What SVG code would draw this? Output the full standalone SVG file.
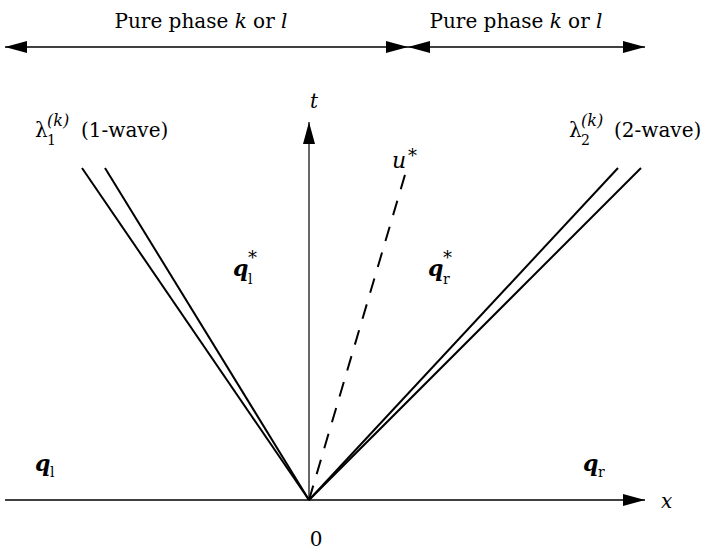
<svg xmlns="http://www.w3.org/2000/svg" width="708" height="553" viewBox="0 0 708 553">
<style>
text{font-family:"DejaVu Serif","Liberation Serif",serif;fill:#000;font-size:20px}
.it{font-style:italic}
.b{font-weight:bold;font-style:italic;font-size:22px}
.s{font-size:14px}
.k{font-size:16px;font-style:italic}
.st{font-size:18px}
.ax{stroke:#000;stroke-width:1.5;fill:none}
.w{stroke:#000;stroke-width:2;fill:none}
.d{stroke:#000;stroke-width:2;fill:none;stroke-dasharray:15 12}
</style>
<defs>
<marker id="ah" viewBox="0 0 22 12" refX="22" refY="6" markerWidth="22" markerHeight="12" markerUnits="userSpaceOnUse" orient="auto-start-reverse">
<path d="M0,0 L22,6 L0,12 Z" fill="#000"/>
</marker>
</defs>
<g id="connectors">
<line class="ax" x1="5" y1="47" x2="408" y2="47" marker-start="url(#ah)" marker-end="url(#ah)"/>
<line class="ax" x1="408" y1="47" x2="645" y2="47" marker-start="url(#ah)" marker-end="url(#ah)"/>
<line class="ax" x1="5" y1="500" x2="645" y2="500" marker-end="url(#ah)"/>
<line class="ax" style="stroke-width:1.2" x1="309" y1="500" x2="309" y2="122" marker-end="url(#ah)"/>
<line class="w" x1="309" y1="500" x2="82" y2="168"/>
<line class="w" x1="309" y1="500" x2="105" y2="168"/>
<line class="w" x1="309" y1="500" x2="618" y2="168"/>
<line class="w" x1="309" y1="500" x2="641" y2="168"/>
<line class="d" x1="309" y1="500" x2="407" y2="168"/>
</g>
<g id="labels">
<text x="201" y="28" text-anchor="middle">Pure phase <tspan class="it">k</tspan> or <tspan class="it">l</tspan></text>
<text x="516" y="28" text-anchor="middle">Pure phase <tspan class="it">k</tspan> or <tspan class="it">l</tspan></text>
<text class="it" x="310" y="108">t</text>
<text class="it" x="661" y="508">x</text>
<text x="316" y="546" text-anchor="middle">0</text>
<text x="35" y="137">λ</text><text class="s" x="47" y="145">1</text><text class="k" x="47" y="126">(k)</text><text x="81" y="137">(1-wave)</text>
<text x="569" y="137">λ</text><text class="s" x="581" y="145">2</text><text class="k" x="581" y="126">(k)</text><text x="614" y="137">(2-wave)</text>
<text class="it" x="392" y="168" style="font-size:22px">u</text><text class="st" x="408" y="162">*</text>
<text class="b" x="233" y="276">q</text><text class="s" x="248" y="284">l</text><text class="st" x="248" y="264">*</text>
<text class="b" x="428" y="276">q</text><text class="s" x="443" y="284">r</text><text class="st" x="443" y="264">*</text>
<text class="b" x="35" y="471">q</text><text class="s" x="50" y="477">l</text>
<text class="b" x="583" y="471">q</text><text class="s" x="598" y="477">r</text>
</g>
</svg>
